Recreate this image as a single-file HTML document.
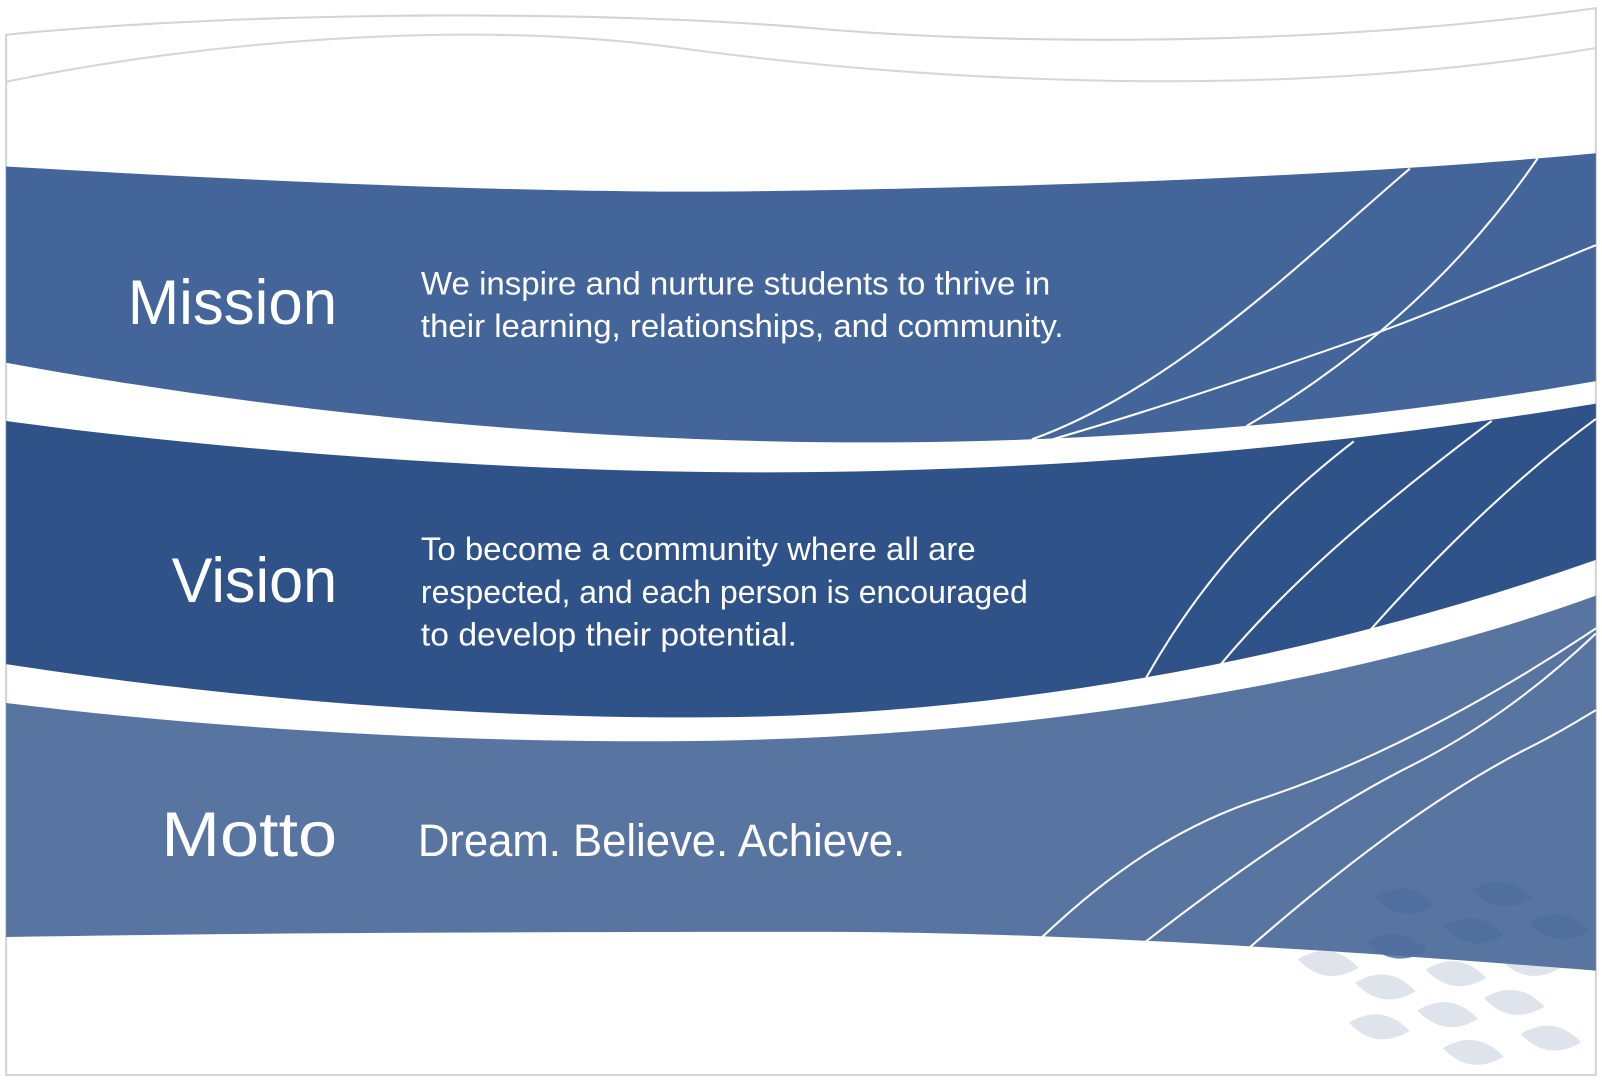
<!DOCTYPE html>
<html><head><meta charset="utf-8"><style>
html,body{margin:0;padding:0;background:#fff;width:1602px;height:1080px;overflow:hidden}
svg{display:block}
text{font-family:"Liberation Sans",sans-serif;fill:#fff}
</style></head><body>
<svg width="1602" height="1080" viewBox="0 0 1568 1057" preserveAspectRatio="none">
<defs>
<path id="lf" d="M-30,0 Q0,-24 30,0 Q0,24 -30,0Z"/>
</defs>
<rect x="0" y="0" width="1568" height="1057" fill="#fff"/>
<!-- frame -->
<path d="M6,34 C250,10 600,10 800,28 C1000,45 1300,45 1562,8 L1562,1052 L6,1052 Z" fill="none" stroke="#d3d3d3" stroke-width="2"/>
<path d="M6,80 C200,40 450,20 650,45 C900,80 1250,100 1562,47" fill="none" stroke="#d6d6d6" stroke-width="2"/>
<!-- leaves -->
<g fill="#dfe4ec">
<use href="#lf" transform="translate(1300,943) rotate(8)"/>
<use href="#lf" transform="translate(1425,953) rotate(8)"/>
<use href="#lf" transform="translate(1498,943) rotate(8)"/>
<use href="#lf" transform="translate(1356,966) rotate(8)"/>
<use href="#lf" transform="translate(1482,981) rotate(8)"/>
<use href="#lf" transform="translate(1417,993) rotate(8)"/>
<use href="#lf" transform="translate(1350,1005) rotate(8)"/>
<use href="#lf" transform="translate(1518,1016) rotate(8)"/>
<use href="#lf" transform="translate(1442,1030) rotate(8)"/>
</g>
<!-- band 1 -->
<path d="M6,163 C300,180 550,190 750,187 C1050,183 1350,170 1562,150 L1562,373 C1350,410 1100,433 850,433 C550,433 250,400 6,355 Z" fill="#44659a"/>
<!-- band 2 -->
<path d="M6,412 C250,445 550,465 800,462 C1100,458 1350,430 1562,395 L1562,548 C1300,640 1000,700 700,702 C450,704 200,680 6,650 Z" fill="#2f5389"/>
<!-- band 3 -->
<path d="M6,688 C250,718 500,728 700,725 C1050,718 1350,660 1562,583 L1562,950 C1250,925 1000,912 800,912 C500,912 250,913 6,917 Z" fill="#5875a2"/>
<!-- dark leaves on band -->
<g fill="#4f6d9e" opacity="0.85">
<use href="#lf" transform="translate(1375,882) rotate(8)"/>
<use href="#lf" transform="translate(1470,875) rotate(8)"/>
<use href="#lf" transform="translate(1442,911) rotate(8)"/>
<use href="#lf" transform="translate(1526,907) rotate(8)"/>
<use href="#lf" transform="translate(1367,926) rotate(8)"/>
</g>
<!-- white lines -->
<g fill="none" stroke="#fff" stroke-width="2">
<path d="M1010,430 C1150,380 1280,250 1380,165"/>
<path d="M1220,417 C1350,340 1440,250 1505,155"/>
<path d="M1030,430 C1150,395 1250,360 1350,325 C1430,295 1500,265 1562,240"/>
<path d="M1122,663 C1180,560 1250,490 1325,432"/>
<path d="M1195,650 C1270,560 1370,480 1460,412"/>
<path d="M1340,618 C1400,550 1480,470 1562,410"/>
<path d="M1017,920 C1090,850 1160,805 1240,780 C1360,740 1480,670 1562,615"/>
<path d="M1117,925 C1200,860 1300,790 1380,750 C1460,710 1520,660 1562,620"/>
<path d="M1220,930 C1300,860 1400,780 1500,730 C1530,715 1550,702 1562,695"/>
</g>
<!-- text -->
<text x="330" y="317" font-size="62" text-anchor="end" textLength="205" lengthAdjust="spacingAndGlyphs">Mission</text>
<text x="330" y="589" font-size="62" text-anchor="end" textLength="162" lengthAdjust="spacingAndGlyphs">Vision</text>
<text x="330" y="838" font-size="62" text-anchor="end" textLength="172" lengthAdjust="spacingAndGlyphs">Motto</text>
<g font-size="32">
<text x="412" y="288" textLength="616" lengthAdjust="spacingAndGlyphs">We inspire and nurture students to thrive in</text>
<text x="412" y="330" textLength="629" lengthAdjust="spacingAndGlyphs">their learning, relationships, and community.</text>
<text x="412" y="548" textLength="543" lengthAdjust="spacingAndGlyphs">To become a community where all are</text>
<text x="412" y="590" textLength="594" lengthAdjust="spacingAndGlyphs">respected, and each person is encouraged</text>
<text x="412" y="632" textLength="368" lengthAdjust="spacingAndGlyphs">to develop their potential.</text>
</g>
<text x="409" y="838" font-size="44" textLength="477" lengthAdjust="spacingAndGlyphs">Dream. Believe. Achieve.</text>
</svg>
</body></html>
